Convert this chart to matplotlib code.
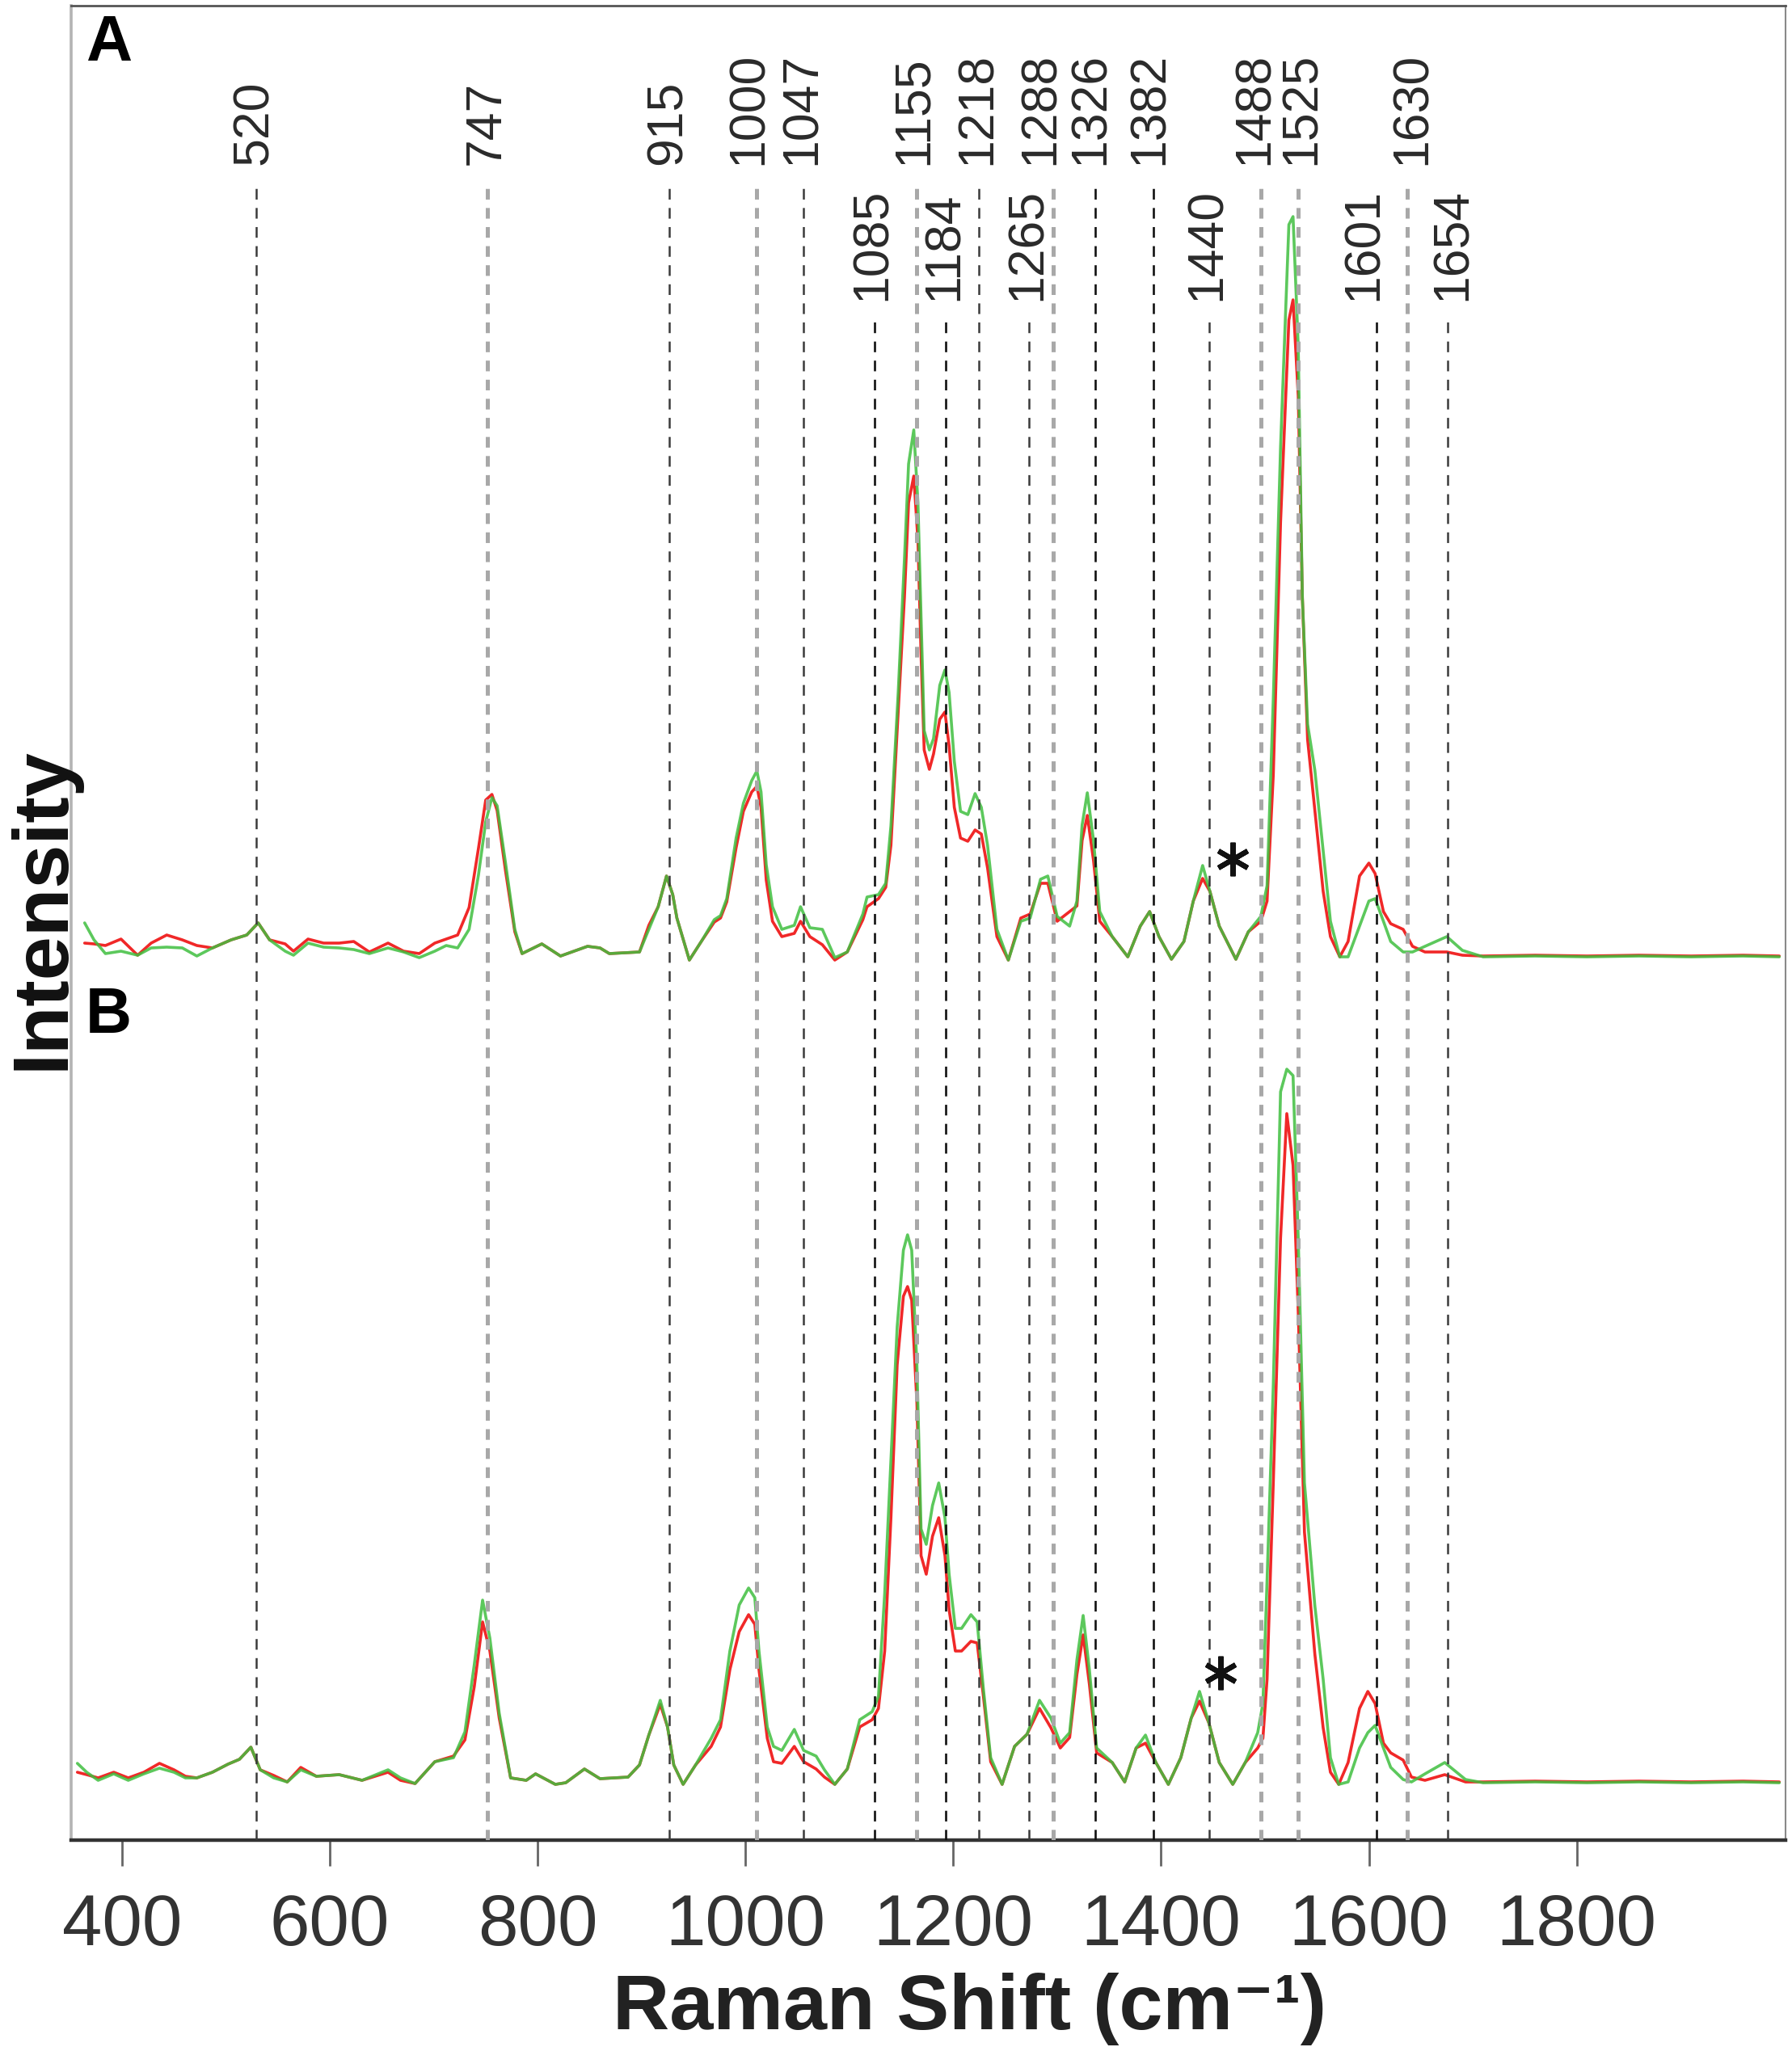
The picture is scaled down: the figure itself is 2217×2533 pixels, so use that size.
import matplotlib
matplotlib.use("Agg")
import matplotlib.pyplot as plt

# Raman spectra, intensity (arbitrary units above each baseline)
wn_A = [364, 373, 384, 399, 415, 428, 443, 458, 472, 487, 505, 520, 531, 542, 557, 565,
        579, 594, 609, 623, 638, 656, 671, 686, 701, 712, 723, 734, 743, 750, 756, 761,
        769, 778, 785, 804, 822, 848, 860, 869, 898, 907, 916, 924, 930, 934, 946, 958,
        970, 976, 982, 991, 998, 1006, 1011, 1015, 1020, 1026, 1035, 1047, 1053, 1062,
        1074, 1086, 1098, 1113, 1117, 1128, 1135, 1140, 1147, 1153, 1157, 1162, 1166,
        1169, 1172, 1177, 1181, 1187, 1192, 1196, 1201, 1207, 1214, 1221, 1227, 1233,
        1242, 1253, 1265, 1274, 1284, 1291, 1300, 1312, 1319, 1324, 1329, 1335, 1341,
        1353, 1368, 1380, 1389, 1398, 1410, 1422, 1431, 1440, 1447, 1456, 1472, 1484,
        1496, 1502, 1508, 1515, 1523, 1527, 1532, 1536, 1541, 1548, 1556, 1563, 1572,
        1580, 1591, 1600, 1606, 1614, 1621, 1633, 1642, 1654, 1675, 1690, 1710, 1760,
        1810, 1860, 1910, 1960, 1995]
A_green = [4.2, 2.1, 0.4, 0.7, 0.2, 1.1, 1.2, 1.1, 0.1, 1.1, 2.1, 2.7, 4.2, 2.1, 0.7, 0.2,
           1.7, 1.2, 1.1, 0.9, 0.4, 1.1, 0.6, -0.1, 0.7, 1.4, 1.1, 3.4, 10.1, 16.7, 19.7, 18.7,
           11.7, 3.4, 0.4, 1.6, 0.1, 1.3, 1.1, 0.4, 0.6, 3.4, 6.2, 10.0, 7.7, 4.8, -0.4, 2.0,
           4.6, 5.1, 7.2, 14.7, 19.0, 21.8, 23.0, 20.4, 11.4, 6.2, 3.4, 3.9, 6.2, 3.6,
           3.4, -0.1, 0.6, 5.3, 7.4, 7.7, 9.1, 16.2, 32.7, 49.2, 61.0, 65.2, 56.2,
           42.1, 28.0, 25.6, 27.0, 33.6, 35.5, 32.7, 24.2, 18.0, 17.6, 20.2, 18.5, 13.8,
           3.4, -0.4, 4.4, 4.8, 9.6, 10.0, 5.0, 3.8, 6.9, 16.3, 20.3, 14.4, 5.6,
           2.5, 0.0, 3.8, 5.6, 2.5, -0.3, 1.9, 6.9, 11.3, 8.1, 3.8, -0.3, 3.1,
           5.0, 8.8, 31.9, 63.1, 90.6, 91.6, 75.6, 44.4, 28.8, 23.1, 13.1, 4.4, 0.0,
           0.0, 3.8, 6.9, 7.2, 4.4, 1.9, 0.6, 0.6, 1.3, 2.5, 0.8, 0.0, 0.1,
           0.0, 0.1, 0.0, 0.1, 0.0]
A_red = [1.7, 1.6, 1.4, 2.2, 0.2, 1.7, 2.7, 2.1, 1.4, 1.1, 2.1, 2.7, 4.2, 2.1, 1.6, 0.7,
         2.2, 1.7, 1.7, 1.9, 0.6, 1.7, 0.7, 0.4, 1.7, 2.2, 2.7, 6.1, 13.4, 19.4, 20.1, 18.1,
         10.7, 3.1, 0.4, 1.6, 0.1, 1.3, 1.1, 0.4, 0.6, 3.9, 6.2, 10.0, 7.7, 4.8, -0.4, 2.0,
         4.3, 4.8, 6.8, 13.5, 18.0, 20.4, 21.1, 18.5, 9.5, 4.4, 2.5, 2.9, 4.4, 2.5,
         1.5, -0.4, 0.6, 4.6, 6.2, 7.2, 8.6, 13.8, 30.3, 44.5, 56.2, 59.5, 51.5,
         37.4, 25.6, 23.2, 25.1, 29.4, 30.3, 26.1, 18.5, 14.7, 14.3, 15.7, 15.2, 11.0,
         2.5, -0.4, 4.8, 5.3, 9.1, 9.1, 4.4, 5.6, 6.3, 14.4, 17.5, 11.9, 4.4,
         2.5, 0.0, 3.8, 5.6, 2.5, -0.3, 1.9, 6.9, 9.7, 8.1, 3.8, -0.3, 3.1,
         4.4, 6.9, 22.5, 53.8, 78.8, 81.3, 69.4, 44.4, 26.9, 18.1, 8.1, 2.5, 0.0,
         1.9, 10.0, 11.6, 10.3, 5.6, 4.1, 3.4, 1.3, 0.6, 0.6, 0.2, 0.1, 0.2,
         0.1, 0.2, 0.1, 0.2, 0.1]

wn_B = [357, 366, 377, 392, 406, 421, 436, 450, 461, 472, 487, 502, 513, 524, 533, 546,
        559, 572, 587, 609, 631, 656, 668, 682, 701, 719, 730, 739, 747, 754, 763, 774,
        789, 798, 817, 827, 845, 860, 887, 898, 907, 918, 925, 931, 940, 952, 967, 976,
        985, 994, 1003, 1009, 1013, 1021, 1027, 1035, 1047, 1056, 1068, 1076, 1086, 1098,
        1110, 1122, 1128, 1134, 1140, 1146, 1152, 1156, 1160, 1165, 1169, 1174, 1180,
        1186, 1192, 1196, 1202, 1208, 1217, 1223, 1229, 1236, 1247, 1259, 1271, 1283,
        1294, 1303, 1312, 1319, 1325, 1331, 1338, 1353, 1365, 1376, 1385, 1395, 1407,
        1419, 1429, 1437, 1446, 1456, 1469, 1481, 1493, 1498, 1502, 1508, 1515, 1521,
        1527, 1532, 1538, 1548, 1556, 1563, 1571, 1580, 1591, 1599, 1606, 1614, 1621,
        1633, 1641, 1654, 1673, 1693, 1710, 1760, 1810, 1860, 1910, 1960, 1995]
B_green = [2.4, 1.3, 0.3, 1.1, 0.3, 1.1, 1.8, 1.3, 0.6, 0.6, 1.3, 2.3, 2.9, 4.4, 1.6, 0.6,
           0.1, 1.6, 0.8, 1.0, 0.3, 1.6, 0.6, -0.1, 2.6, 3.1, 6.3, 14.6, 22.6, 17.9, 8.6, 0.6,
           0.3, 1.1, -0.2, 0.0, 1.7, 0.5, 0.7, 2.2, 5.9, 10.2, 6.9, 2.2, -0.2, 2.2, 5.5, 7.8,
           16.3, 22.0, 24.1, 22.9, 16.3, 6.9, 4.5, 4.0, 6.6, 4.0, 3.3, 1.6, -0.2, 1.7,
           7.8, 8.8, 10.7, 23.4, 39.9, 56.4, 65.9, 67.8, 65.9, 51.7, 31.4, 29.5, 34.3,
           37.1, 32.8, 25.8, 19.1, 19.1, 20.8, 19.9, 11.6, 3.1, -0.2, 4.5, 6.0, 10.2,
           8.0, 4.9, 6.2, 15.2, 20.7, 14.0, 4.3, 2.5, 0.1, 4.3, 5.9, 2.5, -0.2,
           3.1, 8.0, 11.3, 7.4, 2.5, -0.2, 2.5, 6.2, 9.8, 25.0, 49.2, 85.5, 88.3,
           87.5, 67.4, 37.1, 21.9, 12.8, 3.1, -0.2, 0.1, 4.3, 6.2, 7.1, 4.3, 1.9,
           0.4, 0.1, 1.1, 2.5, 0.4, 0.0, 0.1, 0.0, 0.1, 0.0, 0.1, 0.0]
B_red = [1.3, 1.0, 0.6, 1.3, 0.6, 1.3, 2.4, 1.6, 0.8, 0.6, 1.3, 2.3, 2.9, 4.4, 1.6, 0.9,
         0.1, 1.9, 0.8, 1.0, 0.3, 1.3, 0.3, -0.1, 2.6, 3.3, 5.3, 11.9, 19.9, 16.3, 8.0, 0.6,
         0.3, 1.1, -0.2, 0.0, 1.7, 0.5, 0.7, 2.2, 5.9, 9.7, 6.9, 2.2, -0.2, 2.2, 4.5, 6.9,
         14.0, 18.7, 20.8, 19.6, 14.0, 5.5, 2.6, 2.4, 4.5, 2.6, 1.7, 0.7, -0.2, 1.7,
         6.9, 7.8, 9.2, 16.3, 32.8, 51.7, 60.2, 61.4, 59.7, 47.0, 28.1, 25.8, 30.5,
         32.8, 28.1, 21.4, 16.3, 16.3, 17.5, 17.3, 10.7, 2.6, -0.2, 4.5, 6.0, 9.2,
         6.8, 4.3, 5.6, 13.4, 18.3, 12.2, 3.7, 2.5, 0.1, 4.3, 4.9, 2.5, -0.2,
         3.1, 8.0, 10.1, 7.4, 2.5, -0.2, 2.5, 4.3, 5.5, 12.8, 37.1, 67.4, 82.8,
         76.4, 58.3, 31.0, 15.9, 6.8, 1.3, -0.2, 2.5, 9.2, 11.3, 9.8, 4.9, 3.7,
         2.8, 0.7, 0.3, 1.0, 0.1, 0.1, 0.2, 0.1, 0.2, 0.1, 0.2, 0.1]

# marked bands (label, drawn position in cm-1, label row, line tone)
peak_labels = ['520', '747', '915', '1000', '1047', '1085', '1155', '1184', '1218', '1265',
               '1288', '1326', '1382', '1440', '1488', '1525', '1601', '1630', '1654']
peak_pos = [529, 752, 927, 1011, 1056, 1124, 1165, 1193, 1225, 1273,
            1296, 1337, 1393, 1446, 1496, 1532, 1607, 1637, 1676]
peak_row = ['up', 'up', 'up', 'up', 'up', 'low', 'up', 'low', 'up', 'low',
            'up', 'up', 'up', 'low', 'up', 'up', 'low', 'up', 'low']
peak_tone = ['dark', 'gray', 'dark', 'gray', 'dark', 'black', 'gray', 'black', 'dark', 'dark',
             'gray', 'black', 'black', 'dark', 'gray', 'gray', 'black', 'gray', 'dark']

# asterisks (cm-1, height above panel baseline)
star_A = (1469, 12.1)
star_B = (1457, 13.6)

x_ticks = [400, 600, 800, 1000, 1200, 1400, 1600, 1800]

# ---- layout ----
base_A = 109.3
base_B = 7.1
row_top = {'up': 204.4, 'low': 188.7}
row_text = {'up': 207.3, 'low': 190.5}
label_shift = {'1000': -8, '1288': -12, '1326': -5, '1382': -4, '1488': -6,
               '1601': -12, '1630': 5, '1654': 5, '1155': -3, '1525': 3}
tone_style = {'black': ('#111111', 1.9), 'dark': ('#3a3a3a', 1.8), 'gray': ('#a8a8a8', 3.6)}

plt.rcParams['font.family'] = ['Liberation Sans', 'DejaVu Sans']
plt.rcParams['lines.scale_dashes'] = False

W, H = 2217, 2533
fig = plt.figure(figsize=(W / 100, H / 100), dpi=100)
ax = fig.add_axes([88 / W, (H - 2277) / H, (2209 - 88) / W, (2277 - 7) / H])

red = '#f02828'
green = '#3fbf3f'
spec_kw = dict(lw=2.6, solid_joinstyle='round', solid_capstyle='round')

ax.plot(wn_A, [v + base_A for v in A_red], color=red, zorder=2, **spec_kw)
ax.plot(wn_A, [v + base_A for v in A_green], color=green, alpha=0.85, zorder=3, **spec_kw)
ax.plot(wn_B, [v + base_B for v in B_red], color=red, zorder=2, **spec_kw)
ax.plot(wn_B, [v + base_B for v in B_green], color=green, alpha=0.85, zorder=3, **spec_kw)

for lab, pos, row, tone in zip(peak_labels, peak_pos, peak_row, peak_tone):
    col, lw = tone_style[tone]
    ax.plot([pos, pos], [0, row_top[row]], color=col, lw=lw, dashes=(9.5, 7.5), zorder=4)
    ax.text(pos + label_shift.get(lab, -1.5), row_text[row], lab, rotation=90,
            ha='center', va='bottom', fontsize=45, color='#2a2a2a')

ax.plot(star_A[0], star_A[1] + base_A, marker=(6, 2, 0), ms=30, mew=4.5, color='#111111', zorder=5)
ax.plot(star_B[0], star_B[1] + base_B, marker=(6, 2, 0), ms=30, mew=4.5, color='#111111', zorder=5)

ax.set_xlim(351, 2001)
ax.set_ylim(0, 227.0)
ax.set_xticks(x_ticks)
ax.set_yticks([])
ax.tick_params(axis='x', direction='out', length=23, width=2, color='#666666',
               labelsize=64, labelcolor='#333333', pad=24)

ax.spines['left'].set_color('#b4b4b4')
ax.spines['left'].set_linewidth(2.6)
ax.spines['top'].set_color('#555555')
ax.spines['top'].set_linewidth(2)
ax.spines['right'].set_color('#8a8a8a')
ax.spines['right'].set_linewidth(1.5)
ax.spines['bottom'].set_color('#333333')
ax.spines['bottom'].set_linewidth(3.2)

fig.text(106 / W, (H - 75) / H, 'A', fontsize=57, fontweight='bold', ha='left', va='baseline')
fig.text(106 / W, (H - 1278) / H, 'B', fontsize=57, fontweight='bold', ha='left', va='baseline')

fig.text(1200 / W, (H - 2511) / H, 'Raman Shift (cm\u207b\u00b9)', fontsize=70,
         fontweight='bold', ha='center', va='baseline', color='#222222')
fig.text(54 / W, (H - 1124) / H, 'Intensity', fontsize=70, fontweight='bold',
         rotation=90, ha='center', va='center', color='#111111')

fig.savefig('out.png', dpi=100)
